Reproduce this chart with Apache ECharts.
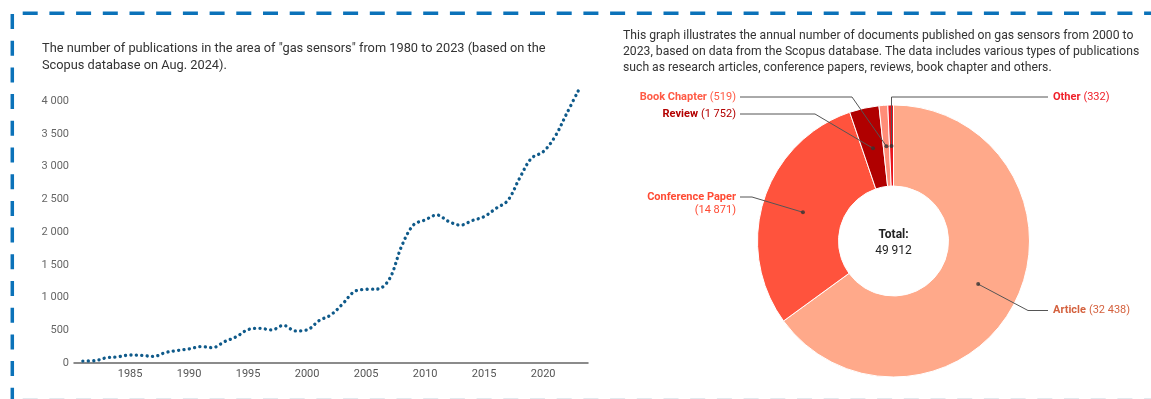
<!DOCTYPE html>
<html>
<head>
<meta charset="utf-8">
<script src="https://cdn.jsdelivr.net/npm/echarts@6/dist/echarts.min.js"></script>
<style>
  html, body { margin: 0; padding: 0; background: #fff; }
  #chart { width: 1151px; height: 399px; }
</style>
</head>
<body>
<div id="chart"></div>
<script>
// Annual publications on "gas sensors" (Scopus)
const years = [1981, 1982, 1983, 1984, 1985, 1986, 1987, 1988, 1989, 1990,
  1991, 1992, 1993, 1994, 1995, 1996, 1997, 1998, 1999, 2000,
  2001, 2002, 2003, 2004, 2005, 2006, 2007, 2008, 2009, 2010,
  2011, 2012, 2013, 2014, 2015, 2016, 2017, 2018, 2019, 2020,
  2021, 2022, 2023];
const publications = [30, 35, 80, 95, 122, 115, 100, 160, 190, 215,
  250, 235, 325, 400, 510, 530, 505, 575, 490, 505,
  645, 733, 900, 1090, 1125, 1130, 1290, 1780, 2105, 2185,
  2260, 2160, 2105, 2175, 2235, 2360, 2480, 2820, 3125, 3225,
  3455, 3810, 4165];
const tickYears = [1985, 1990, 1995, 2000, 2005, 2010, 2015, 2020];

// Document types, 2000-2023
const docTypes = ['Article', 'Conference Paper', 'Review', 'Book Chapter', 'Other'];
const docCounts = [32438, 14871, 1752, 519, 332];

const sliceColors = ['#ffa98a', '#ff533d', '#b00000', '#ff8d78', '#e8141c'];
const labelColors = ['#d4613e', '#ff4a33', '#b30000', '#ff5a45', '#f0202a'];

const FONT = 'Roboto';
const PIE_CENTER = [893.5, 241];
const PIE_RADIUS = [55, 136];
const DOT_RADIUS = 95;
const LEFT_END = 740;
const RIGHT_END = 1048;
// where each slice label sits and where its leader line bends
const labelPlacement = [
  { side: 'right', y: 310.5, elbowX: 1028 },
  { side: 'left', y: 197, elbowX: 752, wrap: true },
  { side: 'left', y: 114, elbowX: 815 },
  { side: 'left', y: 97, elbowX: 852 },
  { side: 'right', y: 97, elbowX: 891.5 }
];

const groupDigits = v => String(v).replace(/\B(?=(\d{3})+(?!\d))/g, '\u00a0');
const total = docCounts.reduce((a, b) => a + b, 0);
// middle of each slice, measured along the angle axis
const midValues = docCounts.map((c, i) =>
  docCounts.slice(0, i).reduce((a, b) => a + b, 0) + c / 2);

// point inside the ring at the middle of a slice (clockwise from 12 o'clock)
function slicePoint(i) {
  const a = midValues[i] / total * 2 * Math.PI;
  return [PIE_CENTER[0] + DOT_RADIUS * Math.sin(a), PIE_CENTER[1] - DOT_RADIUS * Math.cos(a)];
}

const chart = echarts.init(document.getElementById('chart'), null, { renderer: 'canvas' });

const dash = [15, 11.7];
const borderColor = '#0b72b9';

chart.setOption({
  backgroundColor: '#fff',
  animation: false,
  textStyle: { fontFamily: FONT },
  title: [
    {
      text: 'The number of publications in the area of "gas sensors" from 1980 to 2023 (based on the\nScopus database on Aug. 2024).',
      left: 42, top: 41, padding: 0,
      textStyle: { fontFamily: FONT, fontSize: 12.8, fontWeight: 'normal', color: '#333', lineHeight: 16.5 }
    },
    {
      text: 'This graph illustrates the annual number of documents published on gas sensors from 2000 to\n2023, based on data from the Scopus database. The data includes various types of publications\nsuch as research articles, conference papers, reviews, book chapter and others.',
      left: 623, top: 28, padding: 0,
      textStyle: { fontFamily: FONT, fontSize: 12.2, fontWeight: 'normal', color: '#333', lineHeight: 16 }
    }
  ],
  grid: { left: 74, right: 563, top: 101, bottom: 36, containLabel: false },
  xAxis: {
    type: 'value',
    min: 1980.25,
    max: 2023.8,
    axisLine: { show: true, lineStyle: { color: '#666', width: 1.5 } },
    axisTick: { show: false },
    splitLine: { show: false },
    axisLabel: {
      customValues: tickYears,
      color: '#555', fontSize: 11, fontFamily: FONT, margin: 6,
      formatter: v => String(v)
    }
  },
  yAxis: {
    type: 'value',
    min: 0, max: 4000, interval: 500,
    axisLine: { show: false },
    axisTick: { show: false },
    splitLine: { show: false },
    axisLabel: { color: '#666', fontSize: 11, fontFamily: FONT, margin: 5, formatter: groupDigits }
  },
  polar: { center: PIE_CENTER, radius: PIE_RADIUS[1] },
  angleAxis: {
    type: 'value', min: 0, max: total, startAngle: 90, clockwise: true,
    axisLine: { show: false }, axisTick: { show: false }, axisLabel: { show: false },
    splitLine: { show: false }
  },
  radiusAxis: {
    type: 'value', min: 0, max: PIE_RADIUS[1],
    axisLine: { show: false }, axisTick: { show: false }, axisLabel: { show: false },
    splitLine: { show: false }
  },
  series: [
    {
      type: 'line',
      data: years.map((y, i) => [y, publications[i]]),
      smooth: 0.35,
      symbol: 'none',
      clip: false,
      silent: true,
      lineStyle: { color: '#0f5a8a', width: 3.3, type: [0.1, 5.3], cap: 'round' }
    },
    {
      type: 'pie',
      z: 2,
      center: PIE_CENTER,
      radius: PIE_RADIUS,
      startAngle: 90,
      clockwise: true,
      silent: true,
      label: { show: false },
      labelLine: { show: false },
      itemStyle: { borderColor: '#fff', borderWidth: 1 },
      data: docTypes.map((name, i) => ({
        name, value: docCounts[i], itemStyle: { color: sliceColors[i] }
      }))
    },
    {
      // transparent copy of the donut that only carries the labels, drawn on top
      type: 'pie',
      z: 4,
      center: PIE_CENTER,
      radius: [0, DOT_RADIUS],
      startAngle: 90,
      clockwise: true,
      silent: true,
      avoidLabelOverlap: false,
      itemStyle: { color: 'rgba(0,0,0,0)' },
      label: { show: true, position: 'outside' },
      labelLine: { show: true, length: 10, length2: 10, lineStyle: { color: '#555', width: 1 } },
      labelLayout: function (p) {
        const cfg = labelPlacement[p.dataIndex];
        const start = slicePoint(p.dataIndex);
        const endX = cfg.side === 'left' ? LEFT_END : RIGHT_END;
        return {
          x: cfg.side === 'left' ? endX - 4 : endX + 5,
          y: cfg.wrap ? cfg.y - 6.5 : cfg.y,
          align: cfg.side === 'left' ? 'right' : 'left',
          verticalAlign: cfg.wrap ? 'top' : 'middle',
          labelLinePoints: [start, [cfg.elbowX, cfg.y], [endX, cfg.y]]
        };
      },
      data: docTypes.map((name, i) => ({
        name,
        value: docCounts[i],
        label: {
          formatter: '{n|' + name + '}' + (labelPlacement[i].wrap ? '\n' : ' ') +
            '{v|(' + groupDigits(docCounts[i]) + ')}',
          rich: {
            n: { color: labelColors[i], fontWeight: 'bold', fontSize: 11, fontFamily: FONT, lineHeight: 13 },
            v: { color: labelColors[i], fontWeight: 'normal', fontSize: 11, fontFamily: FONT, lineHeight: 13 }
          }
        }
      }))
    },
    {
      type: 'scatter',
      coordinateSystem: 'polar',
      data: midValues.map(m => [DOT_RADIUS, m]),
      symbol: 'circle',
      symbolSize: 4,
      silent: true,
      z: 5,
      itemStyle: { color: '#333' }
    }
  ],
  graphic: [
    {
      type: 'text', z: 10, x: PIE_CENTER[0], y: 235,
      style: {
        text: 'Total:', fill: '#222', fontFamily: FONT, fontSize: 12, fontWeight: 'bold',
        align: 'center', textAlign: 'center', verticalAlign: 'middle', textVerticalAlign: 'middle'
      }
    },
    {
      type: 'text', z: 10, x: PIE_CENTER[0], y: 251,
      style: {
        text: groupDigits(total), fill: '#222', fontFamily: FONT, fontSize: 12,
        align: 'center', textAlign: 'center', verticalAlign: 'middle', textVerticalAlign: 'middle'
      }
    },
    {
      type: 'line', z: 10,
      shape: { x1: 22.7, y1: 13.3, x2: 1165, y2: 13.3 },
      style: { stroke: borderColor, lineWidth: 3.5, lineDash: dash }
    },
    {
      type: 'line', z: 10,
      shape: { x1: 12.3, y1: 14, x2: 12.3, y2: 420 },
      style: { stroke: borderColor, lineWidth: 3.5, lineDash: dash }
    },
    {
      type: 'line', z: 10,
      shape: { x1: 22.7, y1: 398.5, x2: 1165, y2: 398.5 },
      style: { stroke: '#e3e9ee', lineWidth: 1, lineDash: dash }
    }
  ]
});
</script>
</body>
</html>
